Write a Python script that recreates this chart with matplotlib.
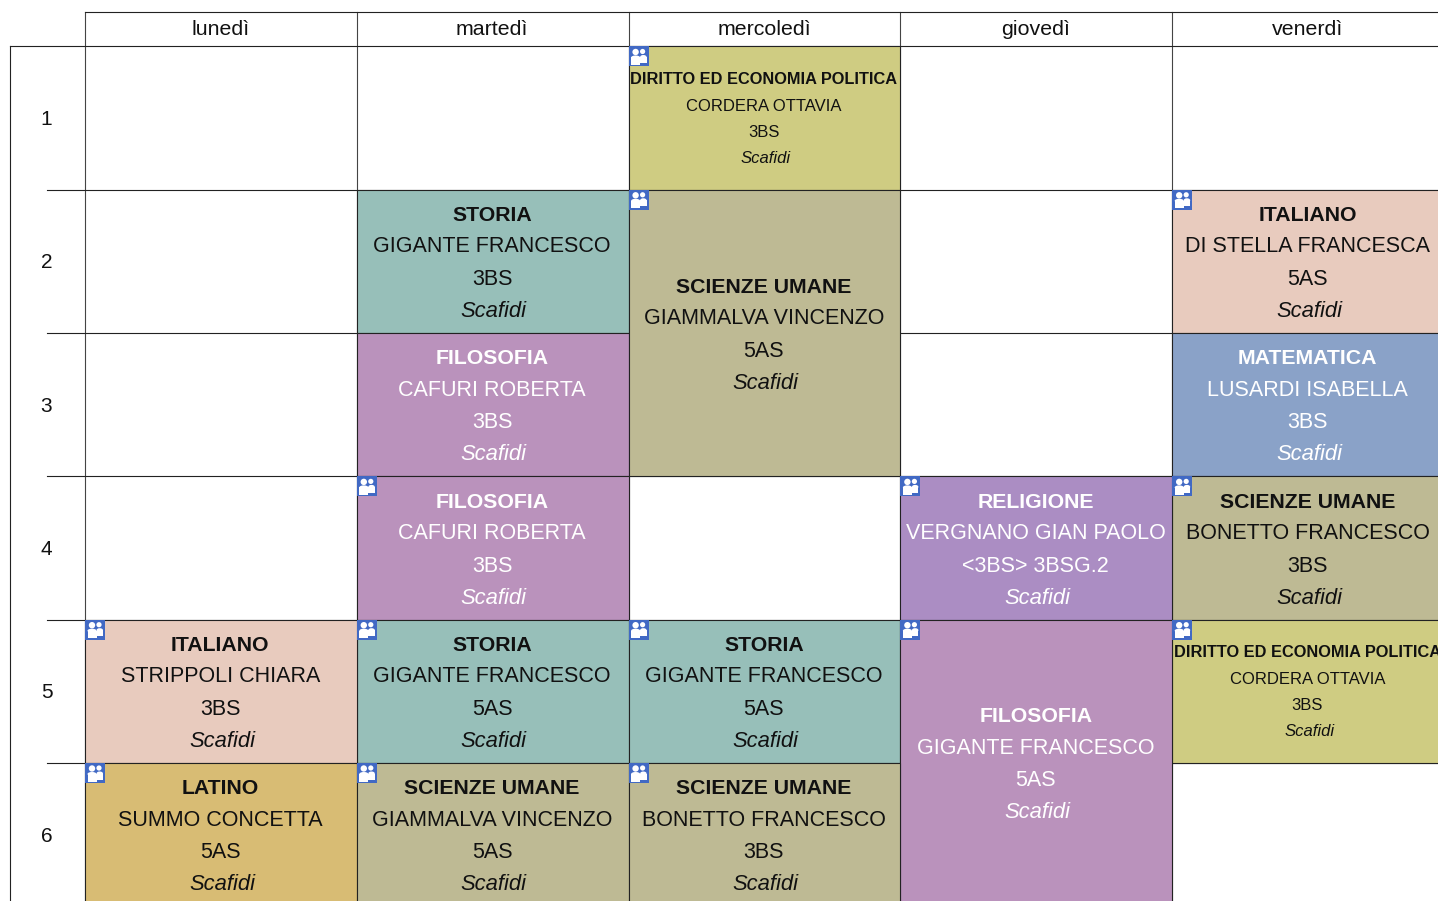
import matplotlib
matplotlib.use('Agg')
import matplotlib.pyplot as plt
from matplotlib.patches import Rectangle, Ellipse

plt.rcParams['font.family'] = ['Liberation Sans', 'DejaVu Sans']

days = ['lunedì', 'martedì', 'mercoledì', 'giovedì', 'venerdì']
hours = ['1', '2', '3', '4', '5', '6']

# lezioni: giorno, ora di inizio, durata, materia, docente, classe, icona
lesson_day = [2, 1, 1, 1, 1, 2, 4, 4, 4, 3, 0, 2, 4, 3, 0, 1, 2]
lesson_hour = [0, 1, 2, 3, 4, 1, 1, 2, 3, 3, 4, 4, 4, 4, 5, 5, 5]
lesson_span = [1, 1, 1, 1, 1, 2, 1, 1, 1, 1, 1, 1, 1, 2, 1, 1, 1]
subjects = ['DIRITTO ED ECONOMIA POLITICA', 'STORIA', 'FILOSOFIA', 'FILOSOFIA', 'STORIA',
            'SCIENZE UMANE', 'ITALIANO', 'MATEMATICA', 'SCIENZE UMANE', 'RELIGIONE',
            'ITALIANO', 'STORIA', 'DIRITTO ED ECONOMIA POLITICA', 'FILOSOFIA',
            'LATINO', 'SCIENZE UMANE', 'SCIENZE UMANE']
teachers = ['CORDERA OTTAVIA', 'GIGANTE FRANCESCO', 'CAFURI ROBERTA', 'CAFURI ROBERTA',
            'GIGANTE FRANCESCO', 'GIAMMALVA VINCENZO', 'DI STELLA FRANCESCA', 'LUSARDI ISABELLA',
            'BONETTO FRANCESCO', 'VERGNANO GIAN PAOLO', 'STRIPPOLI CHIARA', 'GIGANTE FRANCESCO',
            'CORDERA OTTAVIA', 'GIGANTE FRANCESCO', 'SUMMO CONCETTA', 'GIAMMALVA VINCENZO',
            'BONETTO FRANCESCO']
classes = ['3BS', '3BS', '3BS', '3BS', '5AS', '5AS', '5AS', '3BS', '3BS', '<3BS> 3BSG.2',
           '3BS', '5AS', '3BS', '5AS', '5AS', '5AS', '3BS']
rooms = ['Scafidi'] * 17
has_icon = [1, 0, 0, 1, 1, 1, 1, 0, 1, 1, 1, 1, 1, 1, 1, 1, 1]

subject_colors = {'DIRITTO ED ECONOMIA POLITICA': '#CFCC82', 'STORIA': '#97BFB9',
                  'FILOSOFIA': '#BA92BC', 'SCIENZE UMANE': '#BEBA94', 'ITALIANO': '#E8CBBE',
                  'MATEMATICA': '#8AA2C8', 'RELIGIONE': '#AB8DC3', 'LATINO': '#D8BC74'}
white_text = ['FILOSOFIA', 'MATEMATICA', 'RELIGIONE']
small_text = ['DIRITTO ED ECONOMIA POLITICA']

W, H = 1438, 901
x0, y0 = 85.0, 46.5
cw, rh = 271.8, 143.3
line = '#222222'

fig = plt.figure(figsize=(W / 100, H / 100), dpi=100)
ax = fig.add_axes([0, 0, 1, 1])
ax.set_xlim(-x0 / cw, (W - x0) / cw)
ax.set_ylim((H - y0) / rh, -y0 / rh)
ax.axis('off')


# conversione da pixel a unita' degli assi
def px(v):
    return v / cw


def py(v):
    return v / rh


# griglia
for d in range(len(days) + 1):
    ax.plot([d, d], [py(-34.5), 6.5], color='#444444', lw=0.8, zorder=1)
for h in range(1, len(hours) + 1):
    ax.plot([px(-38), 5.5], [h, h], color=line, lw=0.8, zorder=1)
ax.plot([0, 5.5], [py(-34.5), py(-34.5)], color=line, lw=0.8, zorder=1)
ax.plot([px(-75), 5.5], [0, 0], color=line, lw=0.8, zorder=1)
ax.plot([px(-75), px(-75)], [0, 6.5], color=line, lw=0.8, zorder=1)

dx = px(-0.6)
for i, name in enumerate(days):
    ax.text(i + 0.5 + dx, py(-17), name, ha='center', va='center', fontsize=15.4, color='#111111')
for i, name in enumerate(hours):
    ax.text(px(-38.5), i + 0.5 + py(1.5), name, ha='center', va='center', fontsize=15, color='#111111')


def draw_icon(d, h):
    ax.add_patch(Rectangle((d, h), px(20), py(20), fc='#4169C4', ec='none', zorder=4))
    # due figure: testa e busto
    for cx, cy, r, left, right, top, bottom in [(14, 5, 2.6, 11.5, 18, 8.5, 16.5),
                                                (7, 5.5, 3.2, 2.5, 11.5, 9, 18.5)]:
        ax.add_patch(Ellipse((d + px(cx), h + py(cy)), px(2 * r), py(2 * r),
                             fc='white', ec='none', zorder=5))
        ax.add_patch(Ellipse((d + px((left + right) / 2), h + py(top + 2)), px(right - left), py(4),
                             fc='white', ec='none', zorder=5))
        ax.add_patch(Rectangle((d + px(left), h + py(top + 2)), px(right - left), py(bottom - top - 2),
                               fc='white', ec='none', zorder=5))


for i in range(len(subjects)):
    d, h, span, subj = lesson_day[i], lesson_hour[i], lesson_span[i], subjects[i]
    ax.add_patch(Rectangle((d, h), 1, span, fc=subject_colors[subj], ec=line, lw=0.8, zorder=2))
    col = 'white' if subj in white_text else '#111111'
    if subj in small_text:
        offs, fs_b, fs, fs_i = [-38.5, -12, 14.5, 40.5], 11.75, 12, 12
    else:
        offs, fs_b, fs, fs_i = [-46, -14.5, 18, 50], 15.3, 15.5, 15.8
    cy = h + span / 2
    ax.text(d + 0.5 + dx, cy + py(offs[0]), subj, ha='center', va='center', fontsize=fs_b,
            fontweight='bold', color=col, zorder=3)
    ax.text(d + 0.5 + dx, cy + py(offs[1]), teachers[i], ha='center', va='center', fontsize=fs,
            color=col, zorder=3)
    ax.text(d + 0.5 + dx, cy + py(offs[2]), classes[i], ha='center', va='center', fontsize=fs,
            color=col, zorder=3)
    ax.text(d + 0.5 + px(1), cy + py(offs[3]), rooms[i], ha='center', va='center', fontsize=fs_i,
            style='italic', color=col, zorder=3)
    if has_icon[i]:
        draw_icon(d, h)

fig.savefig('out.png', dpi=100)
